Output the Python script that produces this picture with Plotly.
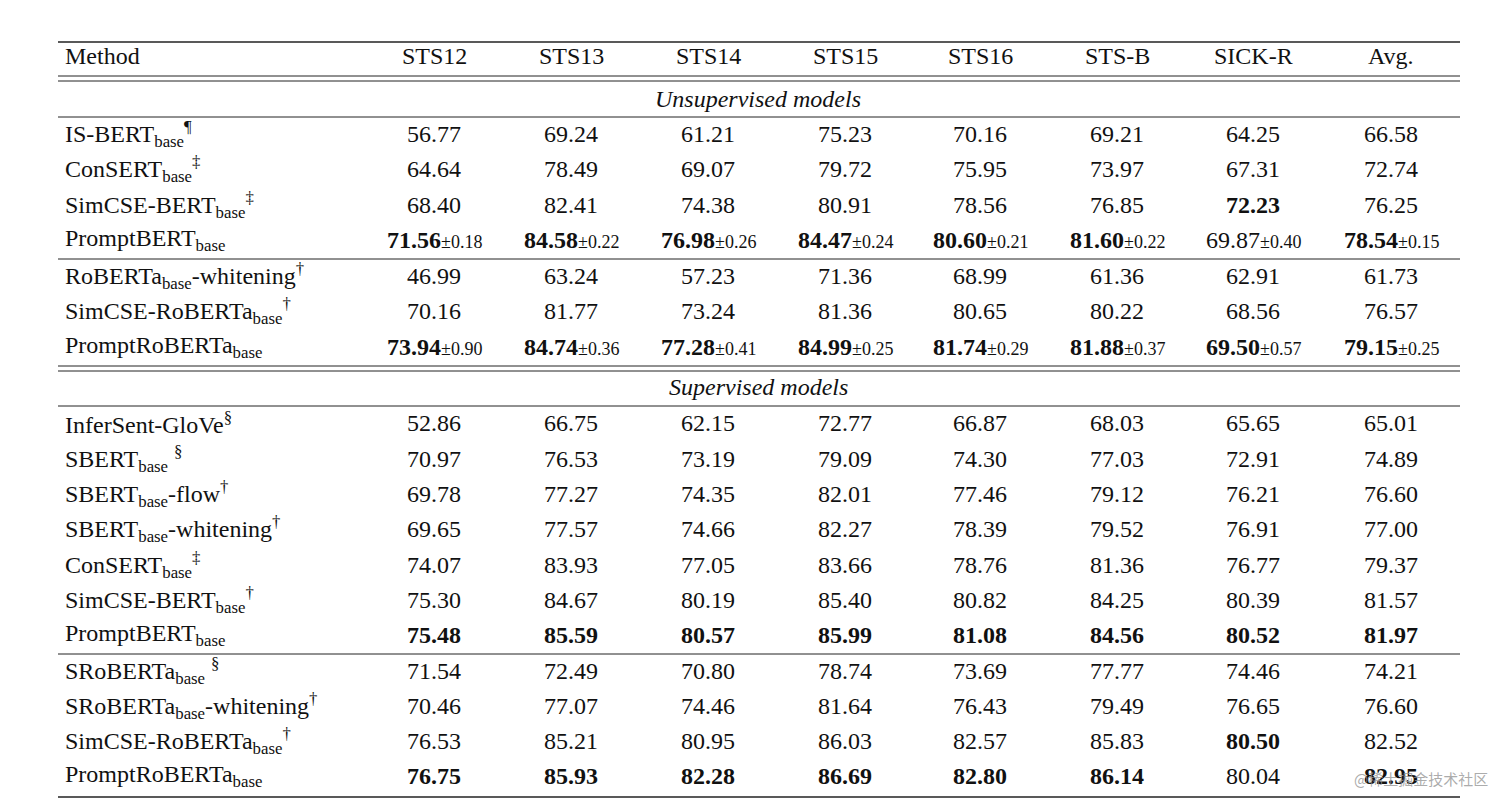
import plotly.graph_objects as go

columns = ["STS12", "STS13", "STS14", "STS15", "STS16", "STS-B", "SICK-R", "Avg."]

unsup_methods = [
    "IS-BERT<sub>base</sub><sup>¶</sup>",
    "ConSERT<sub>base</sub><sup>‡</sup>",
    "SimCSE-BERT<sub>base</sub><sup>‡</sup>",
    "PromptBERT<sub>base</sub>",
    "RoBERTa<sub>base</sub>-whitening<sup>†</sup>",
    "SimCSE-RoBERTa<sub>base</sub><sup>†</sup>",
    "PromptRoBERTa<sub>base</sub>",
]
unsup_values = [
    [56.77, 69.24, 61.21, 75.23, 70.16, 69.21, 64.25, 66.58],
    [64.64, 78.49, 69.07, 79.72, 75.95, 73.97, 67.31, 72.74],
    [68.40, 82.41, 74.38, 80.91, 78.56, 76.85, 72.23, 76.25],
    [71.56, 84.58, 76.98, 84.47, 80.60, 81.60, 69.87, 78.54],
    [46.99, 63.24, 57.23, 71.36, 68.99, 61.36, 62.91, 61.73],
    [70.16, 81.77, 73.24, 81.36, 80.65, 80.22, 68.56, 76.57],
    [73.94, 84.74, 77.28, 84.99, 81.74, 81.88, 69.50, 79.15],
]
unsup_std = [
    None, None, None,
    [0.18, 0.22, 0.26, 0.24, 0.21, 0.22, 0.40, 0.15],
    None, None,
    [0.90, 0.36, 0.41, 0.25, 0.29, 0.37, 0.57, 0.25],
]
unsup_bold = [
    [0]*8, [0]*8, [0, 0, 0, 0, 0, 0, 1, 0],
    [1, 1, 1, 1, 1, 1, 0, 1],
    [0]*8, [0]*8, [1]*8,
]

sup_methods = [
    "InferSent-GloVe<sup>§</sup>",
    "SBERT<sub>base</sub> <sup>§</sup>",
    "SBERT<sub>base</sub>-flow<sup>†</sup>",
    "SBERT<sub>base</sub>-whitening<sup>†</sup>",
    "ConSERT<sub>base</sub><sup>‡</sup>",
    "SimCSE-BERT<sub>base</sub><sup>†</sup>",
    "PromptBERT<sub>base</sub>",
    "SRoBERTa<sub>base</sub> <sup>§</sup>",
    "SRoBERTa<sub>base</sub>-whitening<sup>†</sup>",
    "SimCSE-RoBERTa<sub>base</sub><sup>†</sup>",
    "PromptRoBERTa<sub>base</sub>",
]
sup_values = [
    [52.86, 66.75, 62.15, 72.77, 66.87, 68.03, 65.65, 65.01],
    [70.97, 76.53, 73.19, 79.09, 74.30, 77.03, 72.91, 74.89],
    [69.78, 77.27, 74.35, 82.01, 77.46, 79.12, 76.21, 76.60],
    [69.65, 77.57, 74.66, 82.27, 78.39, 79.52, 76.91, 77.00],
    [74.07, 83.93, 77.05, 83.66, 78.76, 81.36, 76.77, 79.37],
    [75.30, 84.67, 80.19, 85.40, 80.82, 84.25, 80.39, 81.57],
    [75.48, 85.59, 80.57, 85.99, 81.08, 84.56, 80.52, 81.97],
    [71.54, 72.49, 70.80, 78.74, 73.69, 77.77, 74.46, 74.21],
    [70.46, 77.07, 74.46, 81.64, 76.43, 79.49, 76.65, 76.60],
    [76.53, 85.21, 80.95, 86.03, 82.57, 85.83, 80.50, 82.52],
    [76.75, 85.93, 82.28, 86.69, 82.80, 86.14, 80.04, 82.95],
]
sup_bold = [
    [0]*8, [0]*8, [0]*8, [0]*8, [0]*8, [0]*8, [1]*8,
    [0]*8, [0]*8, [0, 0, 0, 0, 0, 0, 1, 0],
    [1, 1, 1, 1, 1, 1, 0, 1],
]

# ---- layout constants (page pixel coordinates) ----
W, H = 1512, 812
OFF = 8  # page body margin
col_x = [434, 571, 708, 845, 980, 1117, 1253, 1391]
method_x = 63
FS = 24
font = "Liberation Serif, Times New Roman, serif"
header_y = 56
unsup_title_y = 99
unsup_rows_y = [134, 169, 205, 240, 276, 311, 347]
sup_title_y = 387
sup_rows_y = [423, 459, 494, 529, 565, 600, 635, 671, 706, 741, 776]
L, R = 58, 1460
lines_y = [(42, 1.3), (76, 1), (81, 1), (117, 1), (259, 1), (366, 1), (371, 1), (406, 1), (654, 1), (797, 1.3)]

ann = []
def txt(x, y, s, anchor="center", size=FS, color="#111", family=font):
    ann.append(dict(x=x, y=y, text=s, xref="x", yref="y", showarrow=False,
                    xanchor=anchor, yanchor="middle",
                    font=dict(family=family, size=size, color=color)))

txt(method_x, header_y, "Method", "left")
for x, c in zip(col_x, columns):
    txt(x, header_y, c)
txt(758, unsup_title_y, "<i>Unsupervised models</i>")
txt(758, sup_title_y, "<i>Supervised models</i>")

def cell(v, b, sd):
    s = f"{v:.2f}"
    if b:
        s = f"<b>{s}</b>"
    if sd is not None:
        s += f"<span style='font-size:18px'>±{sd:.2f}</span>"
    return s

for i, y in enumerate(unsup_rows_y):
    txt(method_x, y, unsup_methods[i], "left")
    for j, x in enumerate(col_x):
        sd = unsup_std[i][j] if unsup_std[i] else None
        txt(x, y, cell(unsup_values[i][j], unsup_bold[i][j], sd))
for i, y in enumerate(sup_rows_y):
    txt(method_x, y, sup_methods[i], "left")
    for j, x in enumerate(col_x):
        txt(x, y, cell(sup_values[i][j], sup_bold[i][j], None))

txt(1490, 778, "@稀土掘金技术社区", "right", size=15,
    color="rgba(150,150,150,0.8)", family="Noto Sans CJK SC")

shapes = [dict(type="line", x0=L, x1=R, y0=y, y1=y, xref="x", yref="y",
               line=dict(color="#222", width=w)) for y, w in lines_y]

fig = go.Figure()
fig.update_layout(
    width=W, height=H, margin=dict(l=0, r=0, t=0, b=0),
    paper_bgcolor="white", plot_bgcolor="white",
    xaxis=dict(range=[OFF, W + OFF], visible=False, fixedrange=True),
    yaxis=dict(range=[H + OFF, OFF], visible=False, fixedrange=True),
    annotations=ann, shapes=shapes, showlegend=False,
)
fig.write_html("out.html")
